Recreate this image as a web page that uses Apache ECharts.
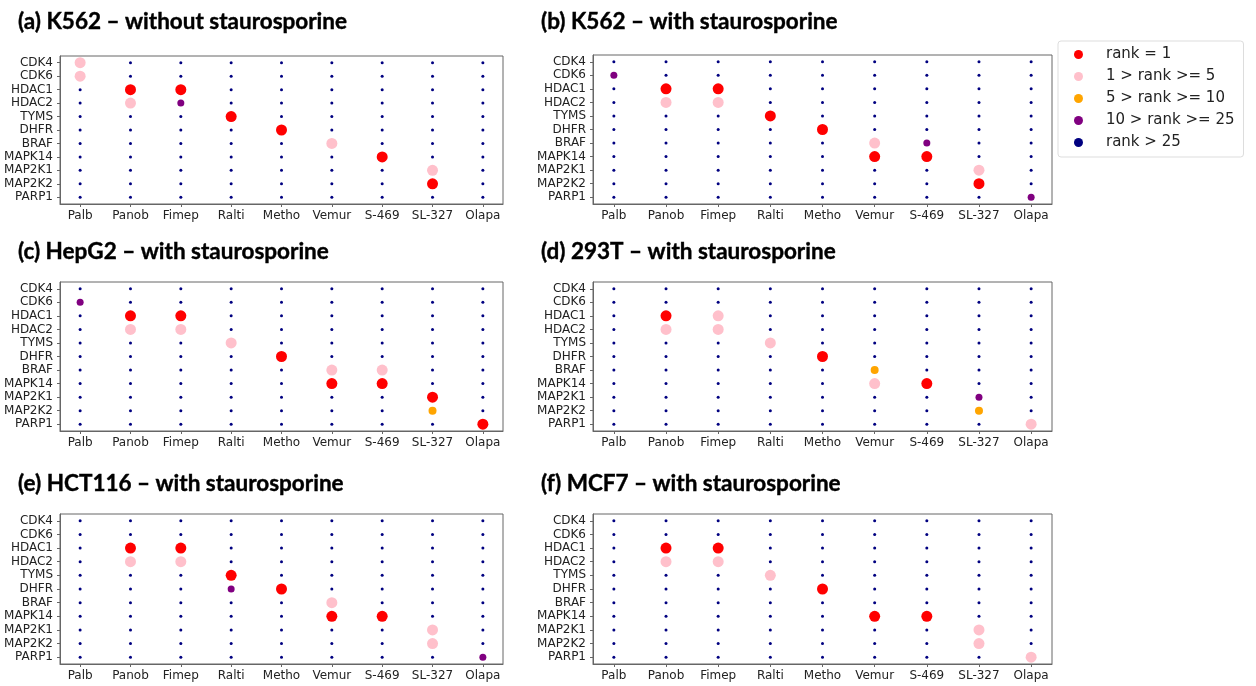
<!DOCTYPE html>
<html>
<head>
<meta charset="utf-8">
<script src="https://cdn.jsdelivr.net/npm/echarts@6/dist/echarts.min.js"></script>
<style>
  html, body { margin: 0; padding: 0; background: #fff; }
  #chart { width: 1256px; height: 686px; }
</style>
</head>
<body>
<div id="chart"></div>
<script>
// categories
const drugs = ["Palb", "Panob", "Fimep", "Ralti", "Metho", "Vemur", "S-469", "SL-327", "Olapa"];
const genes = ["CDK4", "CDK6", "HDAC1", "HDAC2", "TYMS", "DHFR", "BRAF", "MAPK14", "MAP2K1", "MAP2K2", "PARP1"];
const rankLabels = ["rank = 1", "1 > rank >= 5", "5 > rank >= 10", "10 > rank >= 25", "rank > 25"];
const panelTitles = [
  "(a) K562 \u2013 without staurosporine",
  "(b) K562 \u2013 with staurosporine",
  "(c) HepG2 \u2013 with staurosporine",
  "(d) 293T \u2013 with staurosporine",
  "(e) HCT116 \u2013 with staurosporine",
  "(f) MCF7 \u2013 with staurosporine"
];

// rank class per gene (row) and drug (column): 1 = rank 1, 2 = 1-5, 3 = 5-10, 4 = 10-25, 5 = >25
const k562Without = [
  [2,5,5,5,5,5,5,5,5],
  [2,5,5,5,5,5,5,5,5],
  [5,1,1,5,5,5,5,5,5],
  [5,2,4,5,5,5,5,5,5],
  [5,5,5,1,5,5,5,5,5],
  [5,5,5,5,1,5,5,5,5],
  [5,5,5,5,5,2,5,5,5],
  [5,5,5,5,5,5,1,5,5],
  [5,5,5,5,5,5,5,2,5],
  [5,5,5,5,5,5,5,1,5],
  [5,5,5,5,5,5,5,5,5]
];
const k562With = [
  [5,5,5,5,5,5,5,5,5],
  [4,5,5,5,5,5,5,5,5],
  [5,1,1,5,5,5,5,5,5],
  [5,2,2,5,5,5,5,5,5],
  [5,5,5,1,5,5,5,5,5],
  [5,5,5,5,1,5,5,5,5],
  [5,5,5,5,5,2,4,5,5],
  [5,5,5,5,5,1,1,5,5],
  [5,5,5,5,5,5,5,2,5],
  [5,5,5,5,5,5,5,1,5],
  [5,5,5,5,5,5,5,5,4]
];
const hepg2With = [
  [5,5,5,5,5,5,5,5,5],
  [4,5,5,5,5,5,5,5,5],
  [5,1,1,5,5,5,5,5,5],
  [5,2,2,5,5,5,5,5,5],
  [5,5,5,2,5,5,5,5,5],
  [5,5,5,5,1,5,5,5,5],
  [5,5,5,5,5,2,2,5,5],
  [5,5,5,5,5,1,1,5,5],
  [5,5,5,5,5,5,5,1,5],
  [5,5,5,5,5,5,5,3,5],
  [5,5,5,5,5,5,5,5,1]
];
const t293With = [
  [5,5,5,5,5,5,5,5,5],
  [5,5,5,5,5,5,5,5,5],
  [5,1,2,5,5,5,5,5,5],
  [5,2,2,5,5,5,5,5,5],
  [5,5,5,2,5,5,5,5,5],
  [5,5,5,5,1,5,5,5,5],
  [5,5,5,5,5,3,5,5,5],
  [5,5,5,5,5,2,1,5,5],
  [5,5,5,5,5,5,5,4,5],
  [5,5,5,5,5,5,5,3,5],
  [5,5,5,5,5,5,5,5,2]
];
const hct116With = [
  [5,5,5,5,5,5,5,5,5],
  [5,5,5,5,5,5,5,5,5],
  [5,1,1,5,5,5,5,5,5],
  [5,2,2,5,5,5,5,5,5],
  [5,5,5,1,5,5,5,5,5],
  [5,5,5,4,1,5,5,5,5],
  [5,5,5,5,5,2,5,5,5],
  [5,5,5,5,5,1,1,5,5],
  [5,5,5,5,5,5,5,2,5],
  [5,5,5,5,5,5,5,2,5],
  [5,5,5,5,5,5,5,5,4]
];
const mcf7With = [
  [5,5,5,5,5,5,5,5,5],
  [5,5,5,5,5,5,5,5,5],
  [5,1,1,5,5,5,5,5,5],
  [5,2,2,5,5,5,5,5,5],
  [5,5,5,2,5,5,5,5,5],
  [5,5,5,5,1,5,5,5,5],
  [5,5,5,5,5,5,5,5,5],
  [5,5,5,5,5,1,1,5,5],
  [5,5,5,5,5,5,5,2,5],
  [5,5,5,5,5,5,5,2,5],
  [5,5,5,5,5,5,5,5,2]
];
const panels = [k562Without, k562With, hepg2With, t293With, hct116With, mcf7With];

// styles
const rankColors = ["#ff0000", "#ffc0cb", "#ffa500", "#800080", "#000080"];
const rankSizes = [11, 11, 8, 7, 3];
const grids = [
  { left: 60, top: 56, width: 443, height: 148 },
  { left: 593, top: 55, width: 459, height: 149 },
  { left: 60, top: 282, width: 443, height: 149 },
  { left: 593, top: 282, width: 459, height: 149 },
  { left: 60, top: 514, width: 443, height: 150 },
  { left: 593, top: 514, width: 459, height: 150 }
];
const titlePos = [
  { left: 18, top: 10 }, { left: 541, top: 10 },
  { left: 18, top: 240 }, { left: 541, top: 240 },
  { left: 18, top: 472 }, { left: 541, top: 472 }
];

const labelFont = { fontFamily: "DejaVu Sans", fontSize: 12, color: "#222" };
const drugIdx = drugs.map((d, i) => i);
const geneIdx = genes.map((g, i) => i);

let option = {
  animation: false,
  backgroundColor: "#fff",
  title: panelTitles.map((t, i) => ({
    text: t,
    left: titlePos[i].left,
    top: titlePos[i].top,
    padding: 0,
    textStyle: {
      fontFamily: "Lato", fontWeight: "bold", fontSize: 22.5, color: "#000",
      textBorderColor: "#000", textBorderWidth: 0.4
    }
  })),
  legend: {
    left: 1058,
    top: 41,
    orient: "vertical",
    data: rankLabels.map(n => ({ name: n, icon: "circle" })),
    itemWidth: 9,
    itemHeight: 9,
    itemGap: 7,
    padding: [6, 9, 7, 16],
    borderColor: "#dddddd",
    borderWidth: 1,
    borderRadius: 3,
    textStyle: {
      fontFamily: "DejaVu Sans", fontSize: 15, lineHeight: 15, color: "#222",
      padding: [0, 0, 0, 18]
    }
  },
  grid: grids.map(g => Object.assign({ show: true, borderColor: "#666", borderWidth: 1, backgroundColor: "#fff" }, g)),
  xAxis: grids.map((g, i) => ({
    type: "value",
    gridIndex: i,
    min: -0.4,
    max: 8.4,
    splitLine: { show: false },
    axisLine: { show: true, onZero: false, lineStyle: { color: "#666" } },
    axisTick: { show: true, length: 3, customValues: drugIdx, lineStyle: { color: "#666" } },
    axisLabel: Object.assign({ margin: 6, customValues: drugIdx, formatter: v => drugs[Math.round(v)] }, labelFont)
  })),
  yAxis: grids.map((g, i) => ({
    type: "value",
    gridIndex: i,
    inverse: true,
    min: -0.5,
    max: 10.5,
    splitLine: { show: false },
    axisLine: { show: true, onZero: false, lineStyle: { color: "#666" } },
    axisTick: { show: true, length: 3, customValues: geneIdx, lineStyle: { color: "#666" } },
    axisLabel: Object.assign({ margin: 7, customValues: geneIdx, formatter: v => genes[Math.round(v)] }, labelFont)
  })),
  series: []
};

panels.forEach((m, p) => {
  // draw the background rank first so bigger marks sit on top
  [5, 4, 3, 2, 1].forEach(c => {
    const pts = [];
    m.forEach((row, g) => row.forEach((v, d) => { if (v === c) pts.push([d, g]); }));
    option.series.push({
      name: rankLabels[c - 1],
      type: "scatter",
      xAxisIndex: p,
      yAxisIndex: p,
      symbol: "circle",
      symbolSize: rankSizes[c - 1],
      itemStyle: { color: rankColors[c - 1], opacity: 1 },
      z: 2 + (5 - c),
      data: pts
    });
  });
});

let chart = echarts.init(document.getElementById("chart"));
chart.setOption(option);
</script>
</body>
</html>
